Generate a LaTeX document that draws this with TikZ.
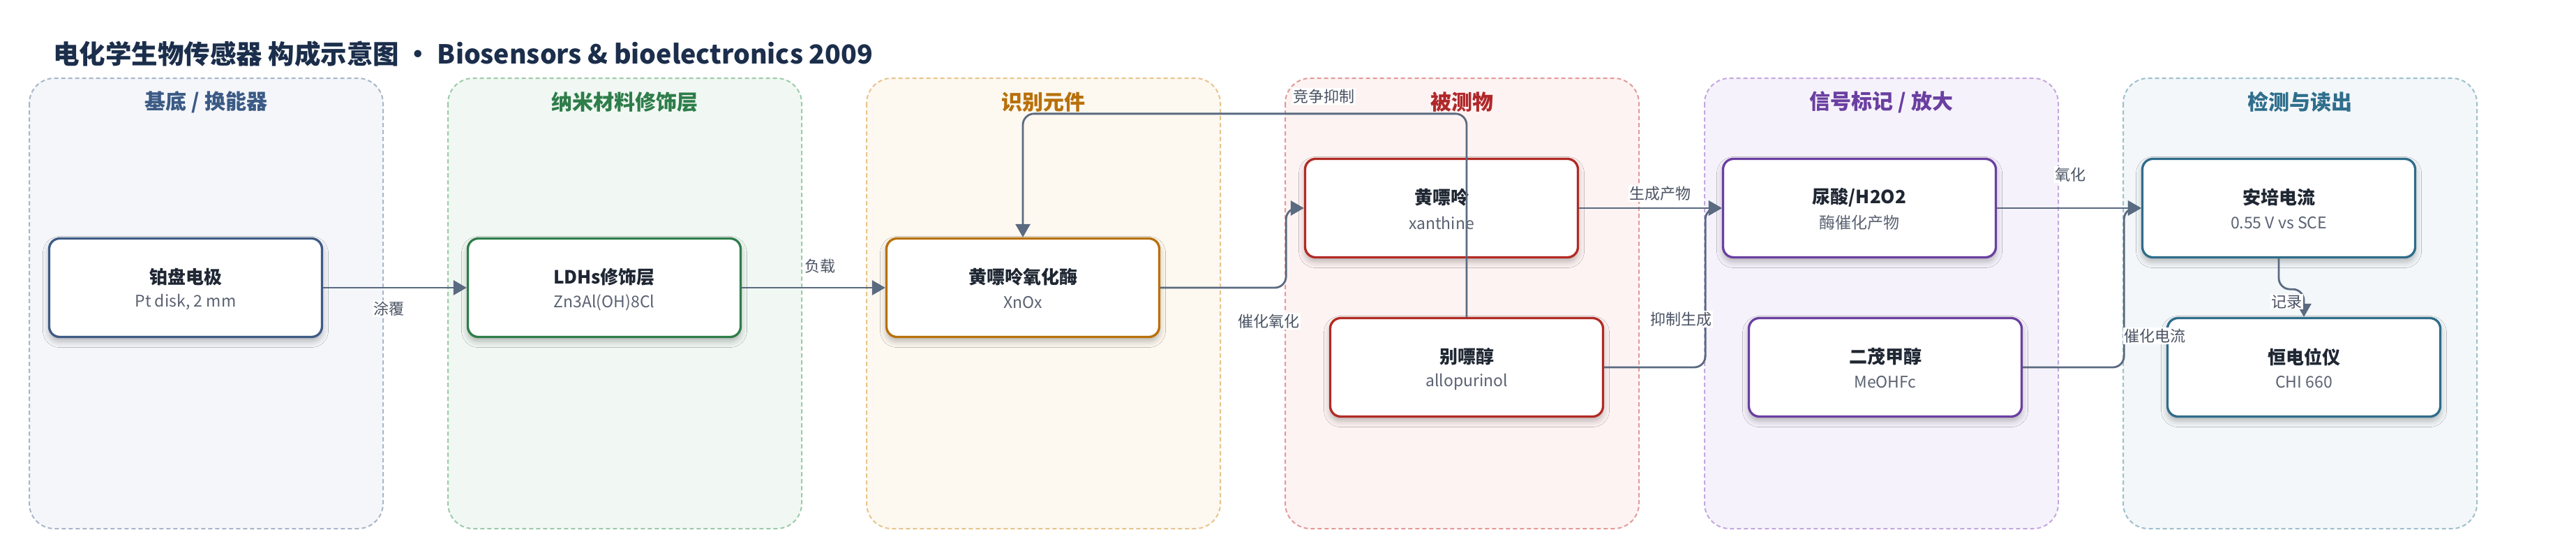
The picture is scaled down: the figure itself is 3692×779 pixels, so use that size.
\documentclass[tikz,border=0pt]{standalone}
\usepackage{fontspec}
\setmainfont{Noto Sans CJK SC}
\usetikzlibrary{arrows.meta,shadows.blur}
\definecolor{titlec}{HTML}{1B2E4B}
\definecolor{txt}{HTML}{1F2733}
\definecolor{subc}{HTML}{5A6272}
\definecolor{lblc}{HTML}{4A5363}
\definecolor{conn}{HTML}{5A6A80}
% panel fills / borders / titles / box borders
\definecolor{pAf}{HTML}{F4F6FA}\definecolor{pAb}{HTML}{A9B6CA}\definecolor{pAt}{HTML}{3B5A85}\definecolor{bA}{HTML}{3F5B85}
\definecolor{pBf}{HTML}{F1F8F3}\definecolor{pBb}{HTML}{9CCBAA}\definecolor{pBt}{HTML}{2E7D4A}\definecolor{bB}{HTML}{2E7D4A}
\definecolor{pCf}{HTML}{FDF8F0}\definecolor{pCb}{HTML}{E8C48C}\definecolor{pCt}{HTML}{B8700A}\definecolor{bC}{HTML}{B8700A}
\definecolor{pDf}{HTML}{FDF3F2}\definecolor{pDb}{HTML}{E39A9A}\definecolor{pDt}{HTML}{B0282A}\definecolor{bD}{HTML}{B22A24}
\definecolor{pEf}{HTML}{F6F2FB}\definecolor{pEb}{HTML}{C3A8E0}\definecolor{pEt}{HTML}{6A3FA0}\definecolor{bE}{HTML}{6A3FA0}
\definecolor{pFf}{HTML}{F3F7F9}\definecolor{pFb}{HTML}{9DC0CE}\definecolor{pFt}{HTML}{2F6E8C}\definecolor{bF}{HTML}{2F6C8A}
\tikzset{
  panel/.style={line width=2pt, dash pattern=on 6pt off 4pt, rounded corners=36pt},
  ptitle/.style={font=\fontsize{30}{34}\selectfont\bfseries},
  box/.style={draw, line width=3.3pt, rounded corners=15pt, fill=white,
    minimum width=391pt, minimum height=141pt,
    blur shadow={shadow xshift=0pt, shadow yshift=-6pt, shadow blur radius=9pt, shadow opacity=28}},
  ttl/.style={font=\fontsize{26}{30}\selectfont\bfseries, text=txt, inner sep=0pt},
  sub/.style={font=\fontsize{23}{27}\selectfont, text=subc, inner sep=0pt},
  conn/.style={draw=conn, line width=2.8pt, rounded corners=16pt,
    -{Triangle[length=19pt,width=21pt]}},
  lbl/.style={font=\fontsize{22}{26}\selectfont, text=lblc, fill=white, inner sep=1.5pt},
}
\begin{document}
\begin{tikzpicture}[x=1pt,y=-1pt]
\useasboundingbox[fill=white] (0,0) rectangle (3692,779);
% title
\node[anchor=west, font=\fontsize{37.5}{44}\selectfont\bfseries, text=titlec, inner sep=0pt] (title) at (76,77)
  {电化学生物传感器 构成示意图 • Biosensors \& bioelectronics 2009};
% panels
\draw[panel, fill=pAf, draw=pAb] (42,112) rectangle (549,757);
\draw[panel, fill=pBf, draw=pBb] (642,112) rectangle (1149,757);
\draw[panel, fill=pCf, draw=pCb] (1242,112) rectangle (1749,757);
\draw[panel, fill=pDf, draw=pDb] (1842,112) rectangle (2349,757);
\draw[panel, fill=pEf, draw=pEb] (2443,112) rectangle (2950,757);
\draw[panel, fill=pFf, draw=pFb] (3043,112) rectangle (3550,757);
\node[ptitle, text=pAt] (tA) at (295.5,146) {基底 / 换能器};
\node[ptitle, text=pBt] (tB) at (895.5,146) {纳米材料修饰层};
\node[ptitle, text=pCt] (tC) at (1495.5,146) {识别元件};
\node[ptitle, text=pDt] (tD) at (2095.5,146) {被测物};
\node[ptitle, text=pEt] (tE) at (2696.5,146) {信号标记 / 放大};
\node[ptitle, text=pFt] (tF) at (3296.5,146) {检测与读出};
% boxes
\node[box, draw=bA] (b1) at (266,412) {};
\node[box, draw=bB] (b2) at (866,412) {};
\node[box, draw=bC] (b3) at (1466,412) {};
\node[box, draw=bD] (b4) at (2066,298) {};
\node[box, draw=bD] (b5) at (2102,526) {};
\node[box, draw=bE] (b6) at (2665,298) {};
\node[box, draw=bE] (b7) at (2702,526) {};
\node[box, draw=bF] (b8) at (3266,298) {};
\node[box, draw=bF] (b9) at (3302,526) {};
% box texts
\node[ttl] (b1t) at ([yshift=15pt]b1.center) {铂盘电极};
\node[sub] (b1s) at ([yshift=-21pt]b1.center) {Pt disk, 2 mm};
\node[ttl] (b2t) at ([yshift=15pt]b2.center) {LDHs修饰层};
\node[sub] (b2s) at ([yshift=-21pt]b2.center) {Zn3Al(OH)8Cl};
\node[ttl] (b3t) at ([yshift=15pt]b3.center) {黄嘌呤氧化酶};
\node[sub] (b3s) at ([yshift=-21pt]b3.center) {XnOx};
\node[ttl] (b4t) at ([yshift=15pt]b4.center) {黄嘌呤};
\node[sub] (b4s) at ([yshift=-21pt]b4.center) {xanthine};
\node[ttl] (b5t) at ([yshift=15pt]b5.center) {别嘌醇};
\node[sub] (b5s) at ([yshift=-21pt]b5.center) {allopurinol};
\node[ttl] (b6t) at ([yshift=15pt]b6.center) {尿酸/H2O2};
\node[sub] (b6s) at ([yshift=-21pt]b6.center) {酶催化产物};
\node[ttl] (b7t) at ([yshift=15pt]b7.center) {二茂甲醇};
\node[sub] (b7s) at ([yshift=-21pt]b7.center) {MeOHFc};
\node[ttl] (b8t) at ([yshift=15pt]b8.center) {安培电流};
\node[sub] (b8s) at ([yshift=-21pt]b8.center) {0.55 V vs SCE};
\node[ttl] (b9t) at ([yshift=15pt]b9.center) {恒电位仪};
\node[sub] (b9s) at ([yshift=-21pt]b9.center) {CHI 660};
% connectors
\draw[conn] (b1.east) -- (b2.west);
\draw[conn] (b2.east) -- (b3.west);
\draw[conn] (b3.east) -- ++(180,0) |- (b4.west);
\draw[conn] (b5.north) -- ++(0,-291) -| (b3.north);
\draw[conn] (b4.east) -- (b6.west);
\draw[conn] (b5.east) -- ++(145,0) |- (b6.west);
\draw[conn] (b6.east) -- (b8.west);
\draw[conn] (b7.east) -- ++(145,0) |- (b8.west);
\draw[conn] (b8.south) -- ++(0,44) -| (b9.north);
% labels
\node[lbl] (l1) at (557,442) {涂覆};
\node[lbl] (l2) at (1175,381) {负载};
\node[lbl] (l3) at (1818,460) {催化氧化};
\node[lbl] (l4) at (1897,138) {竞争抑制};
\node[lbl] (l5) at (2379,277) {生成产物};
\node[lbl] (l6) at (2409,457) {抑制生成};
\node[lbl] (l7) at (2967,250) {氧化};
\node[lbl] (l8) at (3088,481) {催化电流};
\node[lbl] (l9) at (3277,432) {记录};
\end{tikzpicture}
\end{document}
